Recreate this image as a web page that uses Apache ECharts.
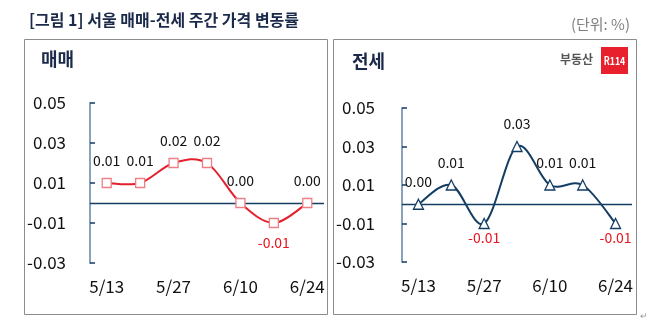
<!DOCTYPE html>
<html>
<head>
<meta charset="utf-8">
<script src="https://cdn.jsdelivr.net/npm/echarts@6/dist/echarts.min.js"></script>
<style>
  html, body { margin: 0; padding: 0; background: #fff; }
  #chart { width: 658px; height: 328px; }
</style>
</head>
<body>
<div id="chart"></div>
<script>
// Weekly price change rate (%), Seoul
const weeks = ['5/13', '5/20', '5/27', '6/3', '6/10', '6/17', '6/24'];
const saleValues = [0.01, 0.01, 0.02, 0.02, 0.00, -0.01, 0.00];   // 매매
const rentValues = [0.00, 0.01, -0.01, 0.03, 0.01, 0.01, -0.01];  // 전세
const yTicks = { min: -0.03, max: 0.05, interval: 0.02 };

const FONT = '"Noto Sans CJK KR", "Noto Sans", sans-serif';
const NAVY = '#133d63';
const RED = '#e4202d';

function pointData(values, negDistance) {
  return values.map(v => ({
    value: v,
    label: {
      position: v < 0 ? 'bottom' : 'top',
      color: v < 0 ? '#e8141e' : '#111',
      distance: v < 0 ? negDistance : 10
    }
  }));
}

function yAxis(gridIndex) {
  return {
    type: 'value', gridIndex,
    min: yTicks.min, max: yTicks.max, interval: yTicks.interval,
    axisLine: { show: true, lineStyle: { color: '#8aa3bb', width: 2 } },
    axisTick: { show: true, inside: true, length: 5, lineStyle: { color: NAVY, width: 1.5 } },
    splitLine: { show: false },
    axisLabel: {
      formatter: v => v.toFixed(2), color: '#111', fontSize: 17, fontFamily: FONT,
      margin: gridIndex === 0 ? 24 : 27
    }
  };
}

function xAxis(gridIndex) {
  return {
    type: 'category', gridIndex, data: weeks, boundaryGap: true,
    axisLine: { show: false }, axisTick: { show: false },
    axisLabel: { interval: 1, color: '#111', fontSize: 17, fontFamily: FONT, margin: 15 }
  };
}

// Cardinal (Catmull-Rom style) smoothed curve through the data points,
// converted to pixels with the cartesian axes of the given grid.
function curveSeries(idx, values, color) {
  return {
    type: 'custom', coordinateSystem: 'cartesian2d',
    xAxisIndex: idx, yAxisIndex: idx,
    data: [[0, values[0]]],
    silent: true, z: 2,
    renderItem: (params, api) => {
      const pts = values.map((v, i) => api.coord([i, v]));
      const n = pts.length;
      const children = [];
      for (let i = 0; i < n - 1; i++) {
        const p0 = pts[Math.max(i - 1, 0)];
        const p1 = pts[i];
        const p2 = pts[i + 1];
        const p3 = pts[Math.min(i + 2, n - 1)];
        children.push({
          type: 'bezierCurve',
          shape: {
            x1: p1[0], y1: p1[1], x2: p2[0], y2: p2[1],
            cpx1: p1[0] + (p2[0] - p0[0]) / 6, cpy1: p1[1] + (p2[1] - p0[1]) / 6,
            cpx2: p2[0] - (p3[0] - p1[0]) / 6, cpy2: p2[1] - (p3[1] - p1[1]) / 6
          },
          style: { stroke: color, lineWidth: 2, fill: null }
        });
      }
      return { type: 'group', children };
    }
  };
}

function pointSeries(idx, values, symbol, symbolSize, border, negDistance) {
  return {
    type: 'line', xAxisIndex: idx, yAxisIndex: idx,
    data: pointData(values, negDistance),
    lineStyle: { opacity: 0 },
    symbol, symbolSize,
    itemStyle: { color: '#fff', borderColor: border, borderWidth: 1.3 },
    label: { show: true, fontSize: 14, fontFamily: FONT, formatter: p => Number(p.value).toFixed(2) },
    markLine: {
      silent: true, symbol: 'none', label: { show: false },
      lineStyle: { color: NAVY, type: 'solid', width: 1.3 },
      data: [{ yAxis: 0 }], z: 1
    },
    z: 3
  };
}

const chart = echarts.init(document.getElementById('chart'), null, { renderer: 'canvas' });
chart.setOption({
  animation: false,
  backgroundColor: '#fff',
  title: [
    { text: '[그림 1] 서울 매매-전세 주간 가격 변동률', left: 24, top: 7,
      textStyle: { fontFamily: FONT, fontSize: 16, fontWeight: 'bold', color: '#1b2a4a' } },
    { text: '(단위: %)', right: 23, top: 12,
      textStyle: { fontFamily: FONT, fontSize: 15, fontWeight: 'normal', color: '#7f7f7f' } },
    { text: '매매', left: 36, top: 45,
      textStyle: { fontFamily: FONT, fontSize: 18, fontWeight: 'bold', color: '#1b2a4a' } },
    { text: '전세', left: 347, top: 47,
      textStyle: { fontFamily: FONT, fontSize: 18, fontWeight: 'bold', color: '#1b2a4a' } }
  ],
  grid: [
    { left: 90, top: 103, width: 234, height: 160 },
    { left: 402, top: 108, width: 230, height: 154 }
  ],
  xAxis: [xAxis(0), xAxis(1)],
  yAxis: [yAxis(0), yAxis(1)],
  series: [
    curveSeries(0, saleValues, RED),
    pointSeries(0, saleValues, 'rect', 9, '#ef7f86', 8),
    curveSeries(1, rentValues, NAVY),
    pointSeries(1, rentValues, 'triangle', 10, NAVY, 2)
  ],
  graphic: [
    { type: 'rect', shape: { x: 24.5, y: 39.5, width: 303, height: 275 },
      style: { fill: 'none', stroke: '#8c8c8c', lineWidth: 1 }, z: -1 },
    { type: 'rect', shape: { x: 333.5, y: 39.5, width: 303, height: 275 },
      style: { fill: 'none', stroke: '#8c8c8c', lineWidth: 1 }, z: -1 },
    { type: 'text', left: 560, top: 53,
      style: { text: '부동산', fontFamily: FONT, fontSize: 12, fontWeight: 'bold', fill: '#555' } },
    { type: 'rect', shape: { x: 601, y: 47, width: 27, height: 27 }, style: { fill: '#e8202e' } },
    { type: 'text', x: 614.5, y: 60.5, scaleX: 0.8,
      style: { text: 'R114', fontFamily: FONT, fontSize: 11, fontWeight: 'bold', fill: '#fff',
               align: 'center', verticalAlign: 'middle' } },
    { type: 'text', left: 640, top: 311,
      style: { text: '↵', fontFamily: FONT, fontSize: 9, fill: '#999' } }
  ]
});
</script>
</body>
</html>
